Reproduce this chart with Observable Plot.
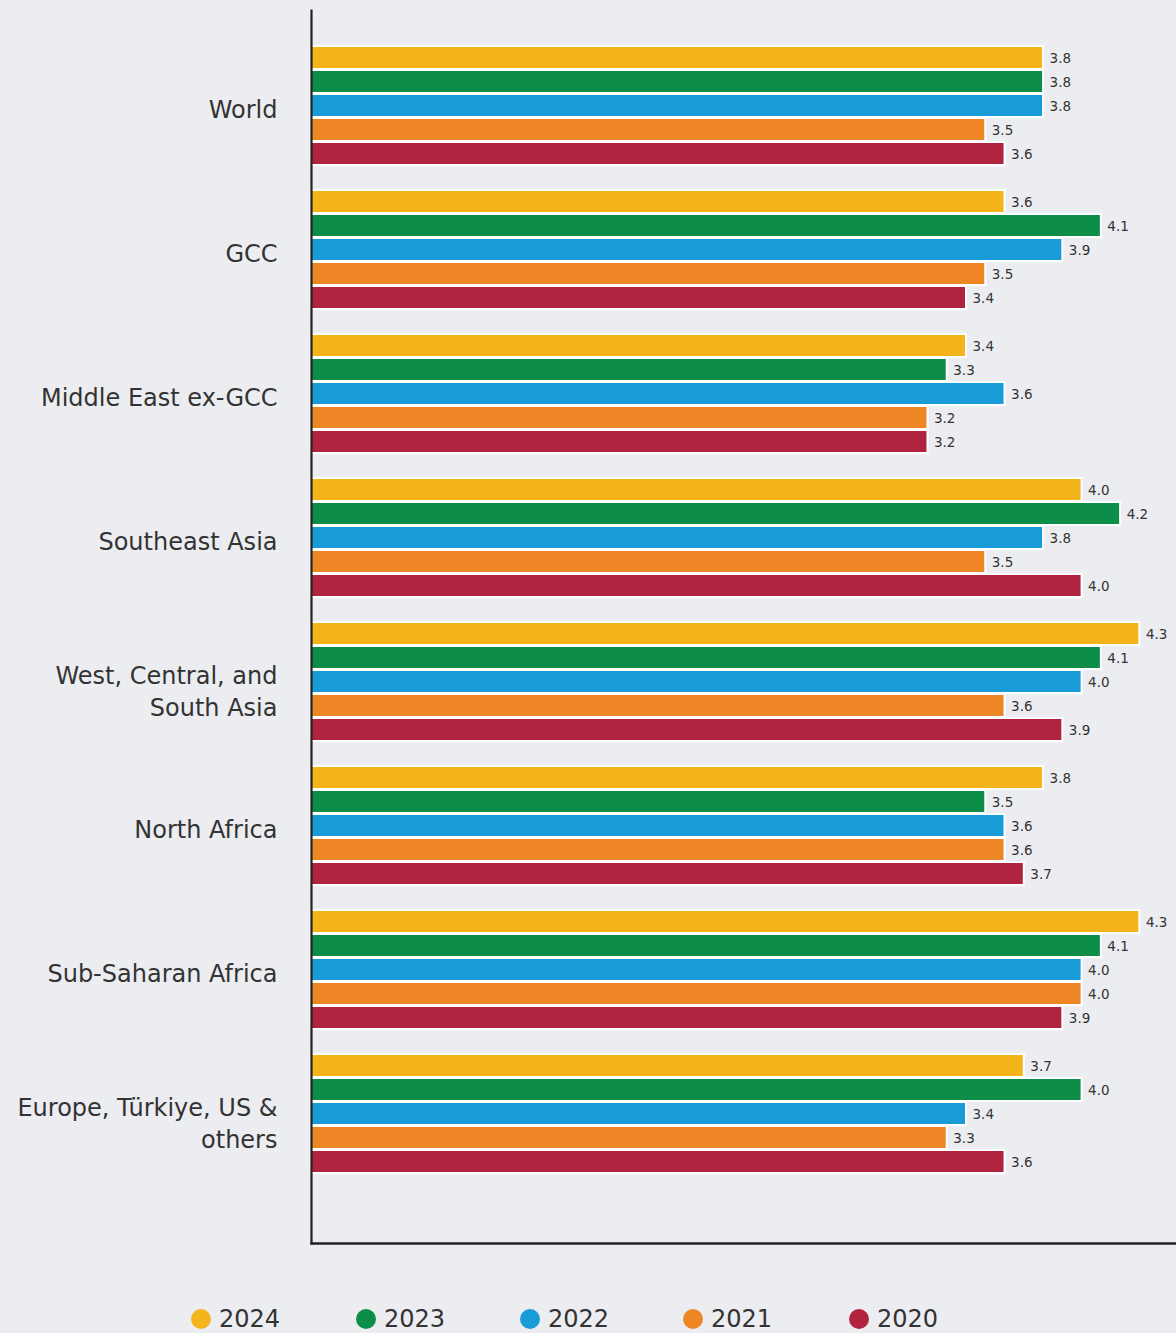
<!DOCTYPE html>
<html>
<head>
<meta charset="utf-8">
<script src="https://cdn.jsdelivr.net/npm/d3@7"></script>
<script src="https://cdn.jsdelivr.net/npm/@observablehq/plot@0.6"></script>
<style>
  html, body { margin: 0; padding: 0; background: #ECEDF1; }
  body { width: 1176px; height: 1333px; overflow: hidden; font-family: "DejaVu Sans", Verdana, sans-serif; }
  #legend { position: relative; height: 70px; }
  .item { position: absolute; top: 44px; display: flex; align-items: center; font-size: 24px; color: #333; line-height: 1; }
  .dot { width: 20px; height: 20px; border-radius: 50%; margin-right: 8px; }
</style>
</head>
<body>
<div id="chart"></div>
<div id="legend"></div>
<script>
const regions = ["World", "GCC", "Middle East ex-GCC", "Southeast Asia", "West, Central, and South Asia", "North Africa", "Sub-Saharan Africa", "Europe, Türkiye, US & others"];
const regionLabels = ["World", "GCC", "Middle East ex-GCC", "Southeast Asia", "West, Central, and\nSouth Asia", "North Africa", "Sub-Saharan Africa", "Europe, Türkiye, US &\nothers"];
const years = ["2024", "2023", "2022", "2021", "2020"];
const v2024 = [3.8, 3.6, 3.4, 4.0, 4.3, 3.8, 4.3, 3.7];
const v2023 = [3.8, 4.1, 3.3, 4.2, 4.1, 3.5, 4.1, 4.0];
const v2022 = [3.8, 3.9, 3.6, 3.8, 4.0, 3.6, 4.0, 3.4];
const v2021 = [3.5, 3.5, 3.2, 3.5, 3.6, 3.6, 4.0, 3.3];
const v2020 = [3.6, 3.4, 3.2, 4.0, 3.9, 3.7, 3.9, 3.6];
const colors = ["#F3B41C", "#0C8E48", "#189BD7", "#EE8625", "#B02440"];

const series = [v2024, v2023, v2022, v2021, v2020];
const key = (r, y) => r + "|" + y;
const data = [];
regions.forEach((r, i) => {
  years.forEach((y, j) => data.push({region: r, year: y, key: key(r, y), value: series[j][i]}));
});
// band domain: the five years of each region, with one empty slot between regions
const yDomain = [];
regions.forEach((r, i) => {
  years.forEach(y => yDomain.push(key(r, y)));
  if (i < regions.length - 1) yDomain.push(key(r, "gap"));
});
const labelOf = new Map(regions.map((r, i) => [key(r, "2022"), regionLabels[i]]));
const singleTicks = regions.filter((r, i) => !regionLabels[i].includes("\n")).map(r => key(r, "2022"));
const multiTicks = regions.filter((r, i) => regionLabels[i].includes("\n")).map(r => key(r, "2022"));
const axisOpts = {tickFormat: k => labelOf.get(k), tickSize: 0, tickPadding: 34, fontSize: 24,
  lineHeight: 1.3, label: null, fill: "#333"};

const chart = Plot.plot({
  width: 1176,
  height: 1263,
  marginLeft: 311,
  marginRight: 0,
  marginTop: 10,
  marginBottom: 20,
  style: {background: "#ECEDF1", fontFamily: "'DejaVu Sans', Verdana, sans-serif", color: "#333"},
  x: {domain: [0, 4.49], axis: null},
  y: {domain: yDomain, range: [45.3, 1174.7], paddingInner: 0.03, paddingOuter: 0, axis: null},
  color: {domain: years, range: colors},
  marks: [
    Plot.barX(data, {x: "value", y: "key", fill: "year", stroke: "white", strokeWidth: 2}),
    Plot.text(data, {x: "value", y: "key", text: d => d3.format(".1f")(d.value),
      textAnchor: "start", dx: 6, dy: 0.5, fontSize: 13.5, fill: "#333"}),
    Plot.axisY({...axisOpts, ticks: singleTicks, dy: 2.5}),
    Plot.axisY({...axisOpts, ticks: multiTicks, dy: 8}),
    Plot.frame({anchor: "left", stroke: "#222", strokeWidth: 2.2}),
    Plot.frame({anchor: "bottom", stroke: "#222", strokeWidth: 2.5})
  ]
});
document.getElementById("chart").appendChild(chart);

const legend = document.getElementById("legend");
const centers = [201, 366, 530, 693, 859];
years.forEach((y, i) => {
  const item = document.createElement("div");
  item.className = "item";
  item.style.left = (centers[i] - 10) + "px";
  const dot = document.createElement("span");
  dot.className = "dot";
  dot.style.background = colors[i];
  const t = document.createElement("span");
  t.textContent = y;
  item.appendChild(dot);
  item.appendChild(t);
  legend.appendChild(item);
});
</script>
</body>
</html>
